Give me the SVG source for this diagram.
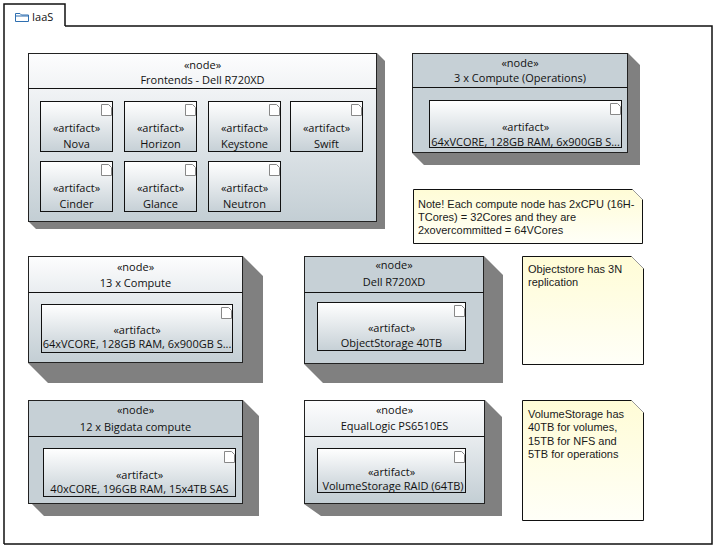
<svg xmlns="http://www.w3.org/2000/svg" width="716" height="549" viewBox="0 0 716 549">
<defs>
<linearGradient id="gNode" x1="0" y1="0" x2="0" y2="1">
<stop offset="0" stop-color="#fdfdfe"/>
<stop offset="1" stop-color="#c3ced4"/>
</linearGradient>
<linearGradient id="gArt" x1="0" y1="0" x2="0" y2="1">
<stop offset="0" stop-color="#ffffff"/>
<stop offset="1" stop-color="#c6d0d6"/>
</linearGradient>
<linearGradient id="gNote" x1="0" y1="0" x2="0" y2="1">
<stop offset="0" stop-color="#fffcd6"/>
<stop offset="1" stop-color="#fffff8"/>
</linearGradient>
<clipPath id="cVol"><rect x="317" y="448" width="149" height="45"/></clipPath>
<clipPath id="cC1"><rect x="429" y="100" width="193" height="48"/></clipPath>
<clipPath id="cC2"><rect x="41" y="304" width="192" height="49"/></clipPath>
<g id="icon">
<path d="M0,0 H7 L10,3 V11 H0 Z" fill="#fff" stroke="#888" stroke-width="1"/>
</g>
</defs>
<style>
.t{font-family:"Open Sans","Noto Sans",sans-serif;font-size:11px;fill:#111;text-anchor:middle}
.n{font-family:"Liberation Sans",Arial,sans-serif;font-size:11px;fill:#1a1a1a}
.sh{fill:#808080}
.nd{stroke:#222;stroke-width:1}
.solid{fill:#c6d0d6}
.grad{fill:url(#gNode)}
.art{fill:url(#gArt);stroke:#111;stroke-width:1}
.hl{stroke:#111;stroke-width:1}
.note{fill:url(#gNote);stroke:#111;stroke-width:1}
.fold{stroke:#999;stroke-width:1;fill:none}
</style>
<rect width="716" height="549" fill="#fff"/>

<g id="frame">
<path d="M4,544 V4 H65 V26" fill="none" stroke="#111" stroke-width="1.5"/>
<path d="M65,26 H712 V544 H4" fill="none" stroke="#111" stroke-width="1.5"/>
<path d="M15.5,13.5 H20 L21.5,15 H28.5 V21.5 H15.5 Z M15.5,16 H28.5" fill="none" stroke="#2f6fb0" stroke-width="1"/>
<text x="32" y="21" style="font-family:'Open Sans','Noto Sans',sans-serif;font-size:11px;fill:#111">IaaS</text>
</g>

<g id="connectors"></g>

<g id="frontends">
<polygon class="sh" points="377,53 385,61 385,229 36,229 28,221 377,221"/>
<rect class="nd grad" x="28.5" y="53.5" width="348" height="168"/>
<line class="hl" x1="28.5" y1="88.5" x2="376.5" y2="88.5"/>
<text class="t" x="202.5" y="69">«node»</text>
<text class="t" x="202.5" y="84">Frontends - Dell R720XD</text>
<g id="nova"><rect class="art" x="40.5" y="101.5" width="72" height="50"/><use href="#icon" x="101.5" y="104.5"/><text class="t" x="76.5" y="132">«artifact»</text><text class="t" x="76.5" y="148">Nova</text></g>
<g id="horizon"><rect class="art" x="124.5" y="101.5" width="72" height="50"/><use href="#icon" x="185.5" y="104.5"/><text class="t" x="160.5" y="132">«artifact»</text><text class="t" x="160.5" y="148">Horizon</text></g>
<g id="keystone"><rect class="art" x="208.5" y="101.5" width="72" height="50"/><use href="#icon" x="269.5" y="104.5"/><text class="t" x="244.5" y="132">«artifact»</text><text class="t" x="244.5" y="148">Keystone</text></g>
<g id="swift"><rect class="art" x="290.5" y="101.5" width="72" height="50"/><use href="#icon" x="351.5" y="104.5"/><text class="t" x="326.5" y="132">«artifact»</text><text class="t" x="326.5" y="148">Swift</text></g>
<g id="cinder"><rect class="art" x="40.5" y="161.5" width="72" height="50"/><use href="#icon" x="101.5" y="164.5"/><text class="t" x="76.5" y="192">«artifact»</text><text class="t" x="76.5" y="208">Cinder</text></g>
<g id="glance"><rect class="art" x="124.5" y="161.5" width="72" height="50"/><use href="#icon" x="185.5" y="164.5"/><text class="t" x="160.5" y="192">«artifact»</text><text class="t" x="160.5" y="208">Glance</text></g>
<g id="neutron"><rect class="art" x="208.5" y="161.5" width="72" height="50"/><use href="#icon" x="269.5" y="164.5"/><text class="t" x="244.5" y="192">«artifact»</text><text class="t" x="244.5" y="208">Neutron</text></g>
</g>

<g id="compute-ops">
<polygon class="sh" points="628,53 640,65 640,165 424,165 412,153 628,153"/>
<rect class="nd solid" x="412.5" y="53.5" width="215" height="99"/>
<line class="hl" x1="412.5" y1="87.5" x2="627.5" y2="87.5"/>
<text class="t" x="520" y="67">«node»</text>
<text class="t" x="520" y="82">3 x Compute (Operations)</text>
<rect class="art" x="429.5" y="100.5" width="192" height="47"/>
<use href="#icon" x="610.5" y="103.5"/>
<text class="t" x="525.5" y="131">«artifact»</text>
<text class="t" x="525.5" y="146" clip-path="url(#cC1)">64xVCORE, 128GB RAM, 6x900GB S...</text>
</g>

<g id="note-cpu">
<path class="note" d="M413.5,189.5 H632.5 L642.5,199.5 V243.5 H413.5 Z"/>
<line class="fold" x1="632.5" y1="189.5" x2="642.5" y2="199.5"/>
<text class="n" x="418" y="208">Note! Each compute node has 2xCPU (16H-</text>
<text class="n" x="418" y="221">TCores) = 32Cores and they are</text>
<text class="n" x="418" y="234">2xovercommitted = 64VCores</text>
</g>

<g id="compute13">
<polygon class="sh" points="243,256 263,276 263,383 48,383 28,363 243,363"/>
<rect class="nd grad" x="28.5" y="256.5" width="214" height="106"/>
<line class="hl" x1="28.5" y1="292.5" x2="242.5" y2="292.5"/>
<text class="t" x="135.5" y="271">«node»</text>
<text class="t" x="135.5" y="287">13 x Compute</text>
<rect class="art" x="41.5" y="304.5" width="191" height="48"/>
<use href="#icon" x="221.5" y="307.5"/>
<text class="t" x="137" y="334">«artifact»</text>
<text class="t" x="137" y="348" clip-path="url(#cC2)">64xVCORE, 128GB RAM, 6x900GB S...</text>
</g>

<g id="dell">
<polygon class="sh" points="484,256 503,275 503,383 323,383 304,364 484,364"/>
<rect class="nd solid" x="304.5" y="256.5" width="179" height="107"/>
<line class="hl" x1="304.5" y1="292.5" x2="483.5" y2="292.5"/>
<text class="t" x="394" y="269">«node»</text>
<text class="t" x="394" y="286">Dell R720XD</text>
<rect class="art" x="317.5" y="302.5" width="148" height="48"/>
<use href="#icon" x="454.5" y="305.5"/>
<text class="t" x="391.5" y="332">«artifact»</text>
<text class="t" x="391.5" y="347">ObjectStorage 40TB</text>
</g>

<g id="note-obj">
<path class="note" d="M522.5,256.5 H631.5 L643.5,268.5 V364.5 H522.5 Z"/>
<line class="fold" x1="631.5" y1="256.5" x2="643.5" y2="268.5"/>
<text class="n" x="528" y="273">Objectstore has 3N</text>
<text class="n" x="528" y="286">replication</text>
</g>

<g id="bigdata">
<polygon class="sh" points="243,400 259,416 259,516 44,516 28,500 243,500"/>
<rect class="nd solid" x="28.5" y="400.5" width="214" height="103"/>
<line class="hl" x1="28.5" y1="436.5" x2="242.5" y2="436.5"/>
<text class="t" x="135.5" y="414">«node»</text>
<text class="t" x="135.5" y="431">12 x Bigdata compute</text>
<rect class="art" x="43.5" y="448.5" width="192" height="48"/>
<use href="#icon" x="224.5" y="451.5"/>
<text class="t" x="139.5" y="479">«artifact»</text>
<text class="t" x="139.5" y="493">40xCORE, 196GB RAM, 15x4TB SAS</text>
</g>

<g id="equallogic">
<polygon class="sh" points="485,400 502,417 502,516 321,516 304,504 485,504"/>
<rect class="nd grad" x="304.5" y="400.5" width="180" height="103"/>
<line class="hl" x1="304.5" y1="436.5" x2="484.5" y2="436.5"/>
<text class="t" x="394.5" y="414">«node»</text>
<text class="t" x="394.5" y="430">EqualLogic PS6510ES</text>
<rect class="art" x="317.5" y="448.5" width="148" height="44"/>
<use href="#icon" x="454.5" y="451.5"/>
<text class="t" x="391.5" y="476">«artifact»</text>
<text class="t" x="393" y="490" clip-path="url(#cVol)">VolumeStorage RAID (64TB)</text>
</g>

<g id="note-vol">
<path class="note" d="M522.5,400.5 H631.5 L643.5,412.5 V520.5 H522.5 Z"/>
<line class="fold" x1="631.5" y1="400.5" x2="643.5" y2="412.5"/>
<text class="n" x="528" y="418">VolumeStorage has</text>
<text class="n" x="528" y="431">40TB for volumes,</text>
<text class="n" x="528" y="445">15TB for NFS and</text>
<text class="n" x="528" y="458">5TB for operations</text>
</g>
</svg>
